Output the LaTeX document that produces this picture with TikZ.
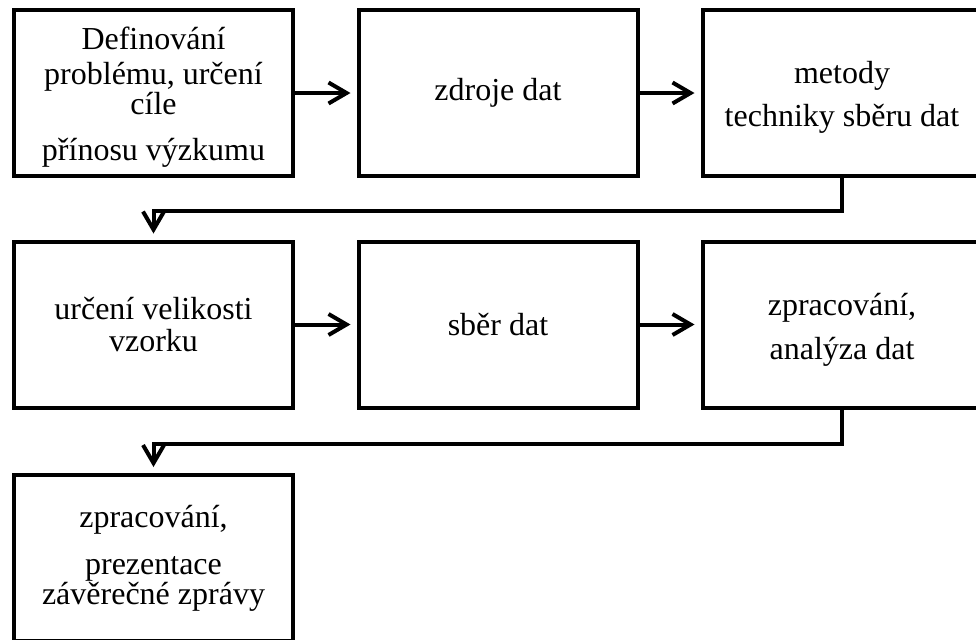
\documentclass[tikz,border=0pt]{standalone}
\usepackage{fontspec}
\setmainfont{Liberation Serif}
\usetikzlibrary{arrows.meta}

\begin{document}
\begin{tikzpicture}[x=0.5pt,y=-0.5pt,line width=2pt,
    box/.style={draw,minimum width=139.5pt,minimum height=83pt,inner sep=0pt,
        align=center,font=\fontsize{16}{16}\selectfont},
    link/.style={-{Straight Barb[length=9pt,width=10.5pt]},shorten >=3pt}]

    \useasboundingbox (0,0) rectangle (976,639);

    % first row
    \node[box] (def) at (153.5,93) {\rule{0pt}{15pt}Definování\\[1.5pt] problému, určení\\[-1pt] cíle\\[7pt] přínosu výzkumu};
    \node[box] (zdr) at (498,93) {zdroje dat};
    \node[box] (met) at (842,93) {\rule{0pt}{15pt}metody\\[5.5pt] techniky sběru dat};

    % second row
    \node[box] (vel) at (153.5,324.5) {určení velikosti\\ vzorku};
    \node[box] (sber) at (498,324.5) {sběr dat};
    \node[box] (ana) at (842,324.5) {\rule{0pt}{16pt}zpracování,\\[6pt] analýza dat};

    % third row
    \node[box] (zpr) at (153.5,558) {zpracování,\\[7.5pt] prezentace\\[-1pt] závěrečné zprávy};

    \draw[link] (def.east) -- (zdr.west);
    \draw[link] (zdr.east) -- (met.west);
    \draw[link] (met.south) -- ++(0,33) -| (vel.north);
    \draw[link] (vel.east) -- (sber.west);
    \draw[link] (sber.east) -- (ana.west);
    \draw[link] (ana.south) -- ++(0,34.5) -| (zpr.north);

\end{tikzpicture}
\end{document}
